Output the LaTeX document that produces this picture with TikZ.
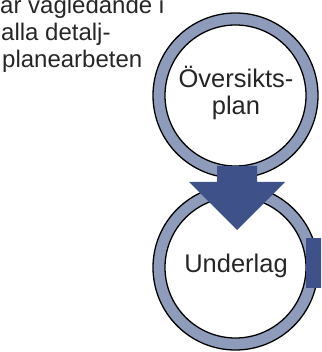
\documentclass[tikz,border=0pt]{standalone}
\usepackage{fontspec}
\setmainfont{Liberation Sans}
\definecolor{ringc}{RGB}{143,155,186}
\definecolor{arrowc}{RGB}{63,81,137}
\begin{document}
\begin{tikzpicture}[x=1pt,y=-1pt,
  ringouter/.style={circle,draw=black,line width=1.3pt,fill=ringc,minimum size=165pt,inner sep=0pt},
  ringinner/.style={circle,draw=black,line width=1.3pt,fill=white,minimum size=141pt,inner sep=0pt},
  sidetext/.style={anchor=base west,inner sep=0pt,font=\fontsize{24}{27}\selectfont,text=black!85},
  circtext/.style={anchor=base,inner sep=0pt,font=\fontsize{25.5}{28}\selectfont,text=black!85},
  blockarrow/.style={fill=arrowc,draw=none}]
\useasboundingbox (0,0) rectangle (321,352);
\clip (0,0) rectangle (321,352);
% rings
\node[ringouter] (topout) at (235.5,95.5) {};
\node[ringinner] (topin) at (topout.center) {};
\node[ringouter] (botout) at (235.5,267.5) {};
\node[ringinner] (botin) at (botout.center) {};
% labels
\node[circtext] (t1) at (236,88) {Översikts-};
\node[circtext] (t2) at (236,115) {plan};
\node[circtext] (t3) at (236,272) {Underlag};
% side text
\node[sidetext] (l1) at (0,14) {är vägledande i};
\node[sidetext] (l2) at (1,41) {alla detalj-};
\node[sidetext] (l3) at (2,68) {planearbeten};
% down block arrow
\coordinate (atop) at (237,166);
\fill[blockarrow] (217,166) -- (257,166) -- (257,182) -- (285,182) -- (237,230) -- (189,182) -- (217,182) -- cycle;
% right block arrow start
\coordinate (rstart) at (306,238);
\fill[blockarrow] (rstart) rectangle (330,288);
\end{tikzpicture}
\end{document}
